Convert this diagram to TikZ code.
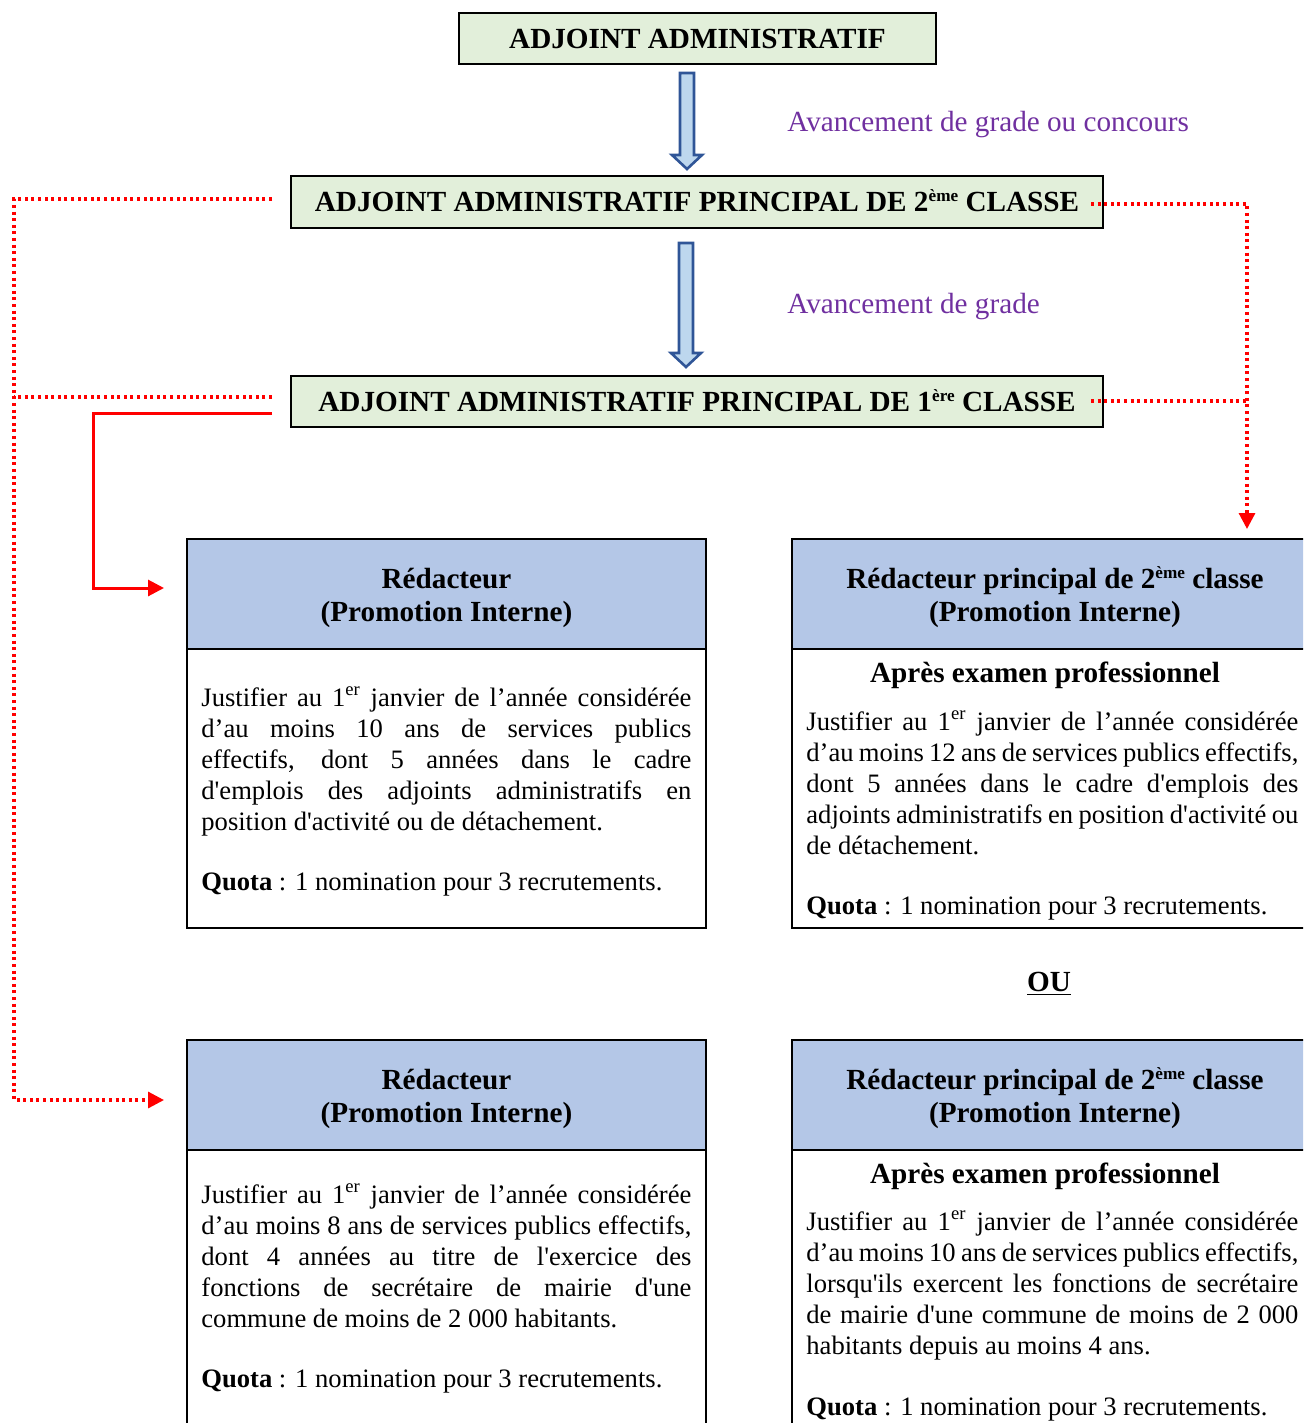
\documentclass[tikz,border=0pt]{standalone}
\usepackage{fontspec}
\setmainfont{Liberation Serif}
\usetikzlibrary{arrows.meta,calc}
\definecolor{titlegreen}{HTML}{E2EFDA}
\definecolor{headblue}{HTML}{B4C7E7}
\definecolor{arrowfill}{HTML}{BDD7EE}
\definecolor{arrowline}{HTML}{2F5597}
\definecolor{labelpurple}{HTML}{7030A0}
\definecolor{linkred}{HTML}{FF0000}
\newcommand{\myjust}[1]{\hbox to\hsize{#1}}
\newcommand{\myq}{\textquotesingle}
\newcommand{\mysup}[1]{\raisebox{0.75ex}{\fontsize{8.6}{9}\selectfont #1}}
\newcommand{\myblockarrow}[2]{\filldraw[blockarrow] ($(#1)+(-7,0)$) -- ($(#2)+(-7,-14)$) -- ($(#2)+(-15,-14)$) -- (#2) -- ($(#2)+(15,-14)$) -- ($(#2)+(7,-14)$) -- ($(#1)+(7,0)$) -- cycle;}
\begin{document}
\begin{tikzpicture}[x=0.5pt,y=-0.5pt,
  titlebox/.style={draw, line width=1pt, fill=titlegreen, inner sep=0pt,
    font=\fontsize{14.6}{17}\selectfont\bfseries, text height=10pt, text depth=0pt},
  outerbox/.style={draw, line width=1pt, inner sep=0pt,
    path picture={\fill[headblue] (path picture bounding box.north west) rectangle ($(path picture bounding box.north east)+(0,110)$);
      \draw[line width=1pt] ($(path picture bounding box.north west)+(0,110)$) -- ($(path picture bounding box.north east)+(0,110)$);}},
  headtext/.style={align=center, inner sep=0pt, font=\fontsize{14.6}{16.5}\selectfont\bfseries},
  boldtext/.style={inner sep=0pt, font=\fontsize{14.6}{17}\selectfont\bfseries},
  bodytext/.style={inner sep=0pt, font=\fontsize{13.3}{15.5}\selectfont},
  purplelabel/.style={inner sep=0pt, text=labelpurple, font=\fontsize{14.6}{17}\selectfont},
  blockarrow/.style={fill=arrowfill, draw=arrowline, line width=1.3pt, line join=miter},
  reddot/.style={draw=linkred, line width=1.6pt, dash pattern=on 1.5pt off 1.8pt},
  redsolid/.style={draw=linkred, line width=1.5pt},
  redtip/.style={-{Triangle[length=8pt,width=8pt]}}
]
\useasboundingbox (0,0) rectangle (1303,1423);
\begin{scope}
\clip (0,0) rectangle (1303,1423);

% title boxes
\node[titlebox, minimum width=238.5pt, minimum height=25.5pt] (A) at (697.5,38.5) {ADJOINT ADMINISTRATIF};
\node[titlebox, minimum width=406pt, minimum height=26pt] (B) at (697,202) {ADJOINT ADMINISTRATIF PRINCIPAL DE 2\mysup{ème} CLASSE};
\node[titlebox, minimum width=406pt, minimum height=25.5pt] (C) at (697,401.5) {ADJOINT ADMINISTRATIF PRINCIPAL DE 1\mysup{ère} CLASSE};

% block arrows
\coordinate (a1s) at ($(A.south)+(-10.5,8)$);
\coordinate (a1e) at ($(B.north)+(-10,-6)$);
\myblockarrow{a1s}{a1e}
\coordinate (a2s) at ($(B.south)+(-11,14)$);
\coordinate (a2e) at ($(C.north)+(-11,-8)$);
\myblockarrow{a2s}{a2e}

\node[purplelabel, anchor=base west] (L1) at (787,132) {Avancement de grade ou concours};
\node[purplelabel, anchor=base west] (L2) at (787,314) {Avancement de grade};

% lower boxes
\node[outerbox, minimum width=259.5pt, minimum height=194.5pt] (D) at (446.5,733.5) {};
\node[outerbox, minimum width=260pt, minimum height=194.5pt] (E) at (1052,733.5) {};
\node[outerbox, minimum width=259.5pt, minimum height=196pt] (F) at (446.5,1236) {};
\node[outerbox, minimum width=260pt, minimum height=207.5pt] (G) at (1052,1247.5) {};

\node[headtext] (Dh) at ($(D.north)+(0,60)$) {Rédacteur\\(Promotion Interne)};
\node[headtext] (Eh) at ($(E.north)+(3,59)$) {Rédacteur principal de 2\mysup{ème} classe\\(Promotion Interne)};
\node[headtext] (Fh) at ($(F.north)+(0,60)$) {Rédacteur\\(Promotion Interne)};
\node[headtext] (Gh) at ($(G.north)+(3,59)$) {Rédacteur principal de 2\mysup{ème} classe\\(Promotion Interne)};

% box D text
\node[bodytext, anchor=base west] (Dt) at (201,706) {\vtop{\hsize=245pt
\myjust{Justifier au 1\textsuperscript{er} janvier de l’année considérée}
\myjust{d’au moins 10 ans de services publics}
\myjust{effectifs, dont 5 années dans le cadre}
\myjust{d\myq emplois des adjoints administratifs en}
\hbox{position d\myq activité ou de détachement.}}};
\node[bodytext, anchor=base west] (Dq) at (201,890) {\textbf{Quota} : 1 nomination pour 3 recrutements.};

% box E text
\node[boldtext, anchor=base] (Ea) at (1045,682) {Après examen professionnel};
\node[bodytext, anchor=base west] (Et) at (806,730) {\vtop{\hsize=246pt
\myjust{Justifier au 1\textsuperscript{er} janvier de l’année considérée}
\myjust{d’au moins 12 ans de services publics effectifs,}
\myjust{dont 5 années dans le cadre d\myq emplois des}
\myjust{adjoints administratifs en position d\myq activité ou}
\hbox{de détachement.}}};
\node[bodytext, anchor=base west] (Eq) at (806,914) {\textbf{Quota} : 1 nomination pour 3 recrutements.};

\node[boldtext, anchor=base] (OU) at (1049,991) {\underline{OU}};

% box F text
\node[bodytext, anchor=base west] (Ft) at (201,1203) {\vtop{\hsize=245pt
\myjust{Justifier au 1\textsuperscript{er} janvier de l’année considérée}
\myjust{d’au moins 8 ans de services publics effectifs,}
\myjust{dont 4 années au titre de l\myq exercice des}
\myjust{fonctions de secrétaire de mairie d\myq une}
\hbox{commune de moins de 2 000 habitants.}}};
\node[bodytext, anchor=base west] (Fq) at (201,1387) {\textbf{Quota} : 1 nomination pour 3 recrutements.};

% box G text
\node[boldtext, anchor=base] (Ga) at (1045,1183) {Après examen professionnel};
\node[bodytext, anchor=base west] (Gt) at (806,1230) {\vtop{\hsize=246pt
\myjust{Justifier au 1\textsuperscript{er} janvier de l’année considérée}
\myjust{d’au moins 10 ans de services publics effectifs,}
\myjust{lorsqu\myq ils exercent les fonctions de secrétaire}
\myjust{de mairie d\myq une commune de moins de 2 000}
\hbox{habitants depuis au moins 4 ans.}}};
\node[bodytext, anchor=base west] (Gq) at (806,1415) {\textbf{Quota} : 1 nomination pour 3 recrutements.};

% red connectors
\coordinate (Lrail) at (14,0);
\coordinate (Srail) at (93,0);
\coordinate (s1) at ($(B.west)+(-18,-3)$);
\coordinate (e1) at ($(F.north west)+(-22,61)$);
\draw[reddot, redtip] (s1) -- (s1 -| Lrail) |- (e1);
\coordinate (s2) at ($(C.west)+(-18,-4.5)$);
\draw[reddot] (s2) -- (s2 -| Lrail);
\coordinate (s3) at ($(C.west)+(-18,11.5)$);
\coordinate (e3) at ($(D.north west)+(-22,50)$);
\draw[redsolid, redtip] (s3) -- (s3 -| Srail) |- (e3);
\coordinate (s4) at ($(B.east)+(-13,2)$);
\coordinate (e4) at ($(E.north west)+(456,-9)$);
\draw[reddot, redtip] (s4) -| (e4);
\coordinate (s5) at ($(C.east)+(-13,-0.5)$);
\draw[reddot] (s5) -- (s5 -| e4);
\end{scope}
\end{tikzpicture}
\end{document}
